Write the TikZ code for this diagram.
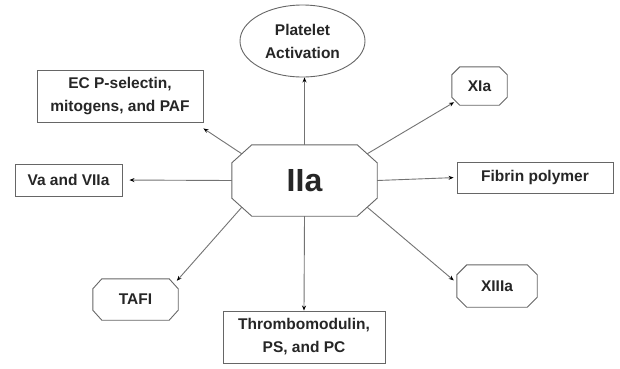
\documentclass[tikz,border=0pt]{standalone}
\usepackage{fontspec}
\setmainfont{Liberation Sans}
\usetikzlibrary{shapes.geometric,arrows.meta,calc}
\newcommand{\octframe}[3]{%
  \draw[octline] ($(#1.north west)+(#2,0)$) -- ($(#1.north east)+(-#2,0)$) -- ($(#1.north east)+(0,#3)$) -- ($(#1.south east)+(0,-#3)$) -- ($(#1.south east)+(-#2,0)$) -- ($(#1.south west)+(#2,0)$) -- ($(#1.south west)+(0,-#3)$) -- ($(#1.north west)+(0,#3)$) -- cycle;}
\begin{document}
\begin{tikzpicture}[x=1pt,y=-1pt,
  lbl/.style={font=\bfseries\fontsize{15.5}{23}\selectfont,align=center,text=black!85,inner sep=0pt},
  boxnode/.style={lbl,draw=black!60,line width=0.9pt,rectangle},
  octnode/.style={lbl,rectangle},
  octline/.style={draw=black!60,line width=0.9pt},
  conn/.style={draw=black!55,line width=0.9pt,-{Stealth[length=5pt,width=4pt,color=black,fill=black]}}
]
\fill[white] (0,0) rectangle (620,368);
\useasboundingbox (0,0) rectangle (620,368);

\node[octnode,minimum width=145pt,minimum height=71pt,font=\bfseries\fontsize{32}{36}\selectfont] (IIa) at (304.5,180.5) {IIa};
\octframe{IIa}{20}{18}
\node[lbl,draw=black!60,line width=0.9pt,ellipse,minimum width=125pt,minimum height=72pt] (plat) at (302.5,41) {Platelet\\Activation};
\node[boxnode,minimum width=166pt,minimum height=52pt] (EC) at (120,96) {EC P-selectin,\\mitogens, and PAF};
\node[boxnode,minimum width=107pt,minimum height=32pt] (Va) at (68.5,180) {Va and VIIa};
\node[octnode,minimum width=55pt,minimum height=38pt] (XIa) at (479.5,86) {XIa};
\octframe{XIa}{8}{8}
\node[boxnode,minimum width=156pt,minimum height=31pt] (Fib) at (535,177.5) {Fibrin polymer};
\node[octnode,minimum width=80pt,minimum height=42pt] (XIIIa) at (497,286) {XIIIa};
\octframe{XIIIa}{10}{10}
\node[octnode,minimum width=85pt,minimum height=41pt] (TAFI) at (135.5,299.5) {TAFI};
\octframe{TAFI}{9}{10}
\node[boxnode,minimum width=162pt,minimum height=52pt] (TM) at (304,337) {Thrombomodulin,\\PS, and PC};

\coordinate (IIanw) at ($(IIa.north west)+(10,9)$);
\coordinate (IIane) at ($(IIa.north east)+(-10,9)$);
\coordinate (IIase) at ($(IIa.south east)+(-10,-9)$);
\coordinate (IIasw) at ($(IIa.south west)+(10,-9)$);
\coordinate (XIasw) at ($(XIa.south west)+(4,-4)$);
\coordinate (TAFIne) at ($(TAFI.north east)+(-4,5)$);
\coordinate (XIIIaw) at ($(XIIIa.west)+(0,-3)$);
\coordinate (ECend) at ($(EC.south east)+(0,6)$);

\draw[conn] (IIa.north) -- (IIa.north |- plat.south);
\draw[conn] (IIanw) -- (ECend);
\draw[conn,shorten >=7pt] (IIa.west) -- (Va.east);
\draw[conn,shorten >=2pt] (IIane) -- (XIasw);
\draw[conn,shorten >=3pt] (IIa.east) -- (Fib.west);
\draw[conn,shorten >=4pt] (IIase) -- (XIIIaw);
\draw[conn,shorten >=4pt] (IIasw) -- (TAFIne);
\draw[conn] (IIa.south) -- (TM.north);
\end{tikzpicture}
\end{document}
